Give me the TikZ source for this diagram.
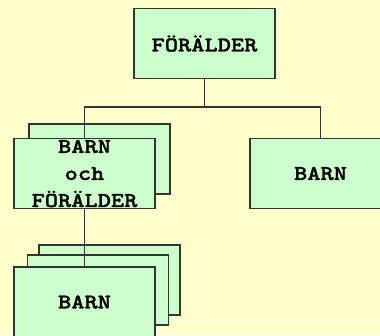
\documentclass[tikz,border=0pt]{standalone}
\usepackage{fontspec}
% bold slab-serif typewriter face, widened to a Courier-like advance
\newfontfamily\boxfont{lmmonolt10-bold.otf}[FakeStretch=1.2,FakeBold=1.2]
\definecolor{paper}{HTML}{FFFFCC}
\definecolor{boxgreen}{HTML}{CCFFCC}
\definecolor{edge}{HTML}{333333}
\begin{document}
\begin{tikzpicture}[x=1pt,y=-1pt,
  unit/.style={draw=edge, line width=1.1pt, fill=boxgreen, rectangle,
    minimum width=141pt, minimum height=70pt, inner sep=0pt, outer sep=0pt,
    align=center, font=\boxfont\fontsize{21}{27}\selectfont},
  link/.style={draw=edge, line width=1.1pt}]
  % canvas
  \clip (0,0) rectangle (380,335);
  \fill[paper] (0,0) rectangle (380,335);

  % stacked copies behind the front boxes
  \node[unit] (midback) at (99.5,159) {};
  \node[unit] (botback2) at (109.5,280) {};
  \node[unit] (botback1) at (98,290) {};

  % hierarchy boxes
  \node[unit] (top) at (204.5,43.5) {FÖRÄLDER};
  \node[unit] (midfront) at (84.5,173.5) {BARN\\och\\FÖRÄLDER};
  \node[unit] (right) at (320.5,173.5) {BARN};
  \node[unit] (botfront) at (84.5,302) {BARN};

  % bus between the parent and its children
  \coordinate (bus) at (204.5,107);
  \draw[link] (top.south) -- (bus);
  \draw[link] (bus) -| (midfront.north);
  \draw[link] (bus) -| (right.north);
  \draw[link] (midfront.south) -- (botfront.north);
\end{tikzpicture}
\end{document}
